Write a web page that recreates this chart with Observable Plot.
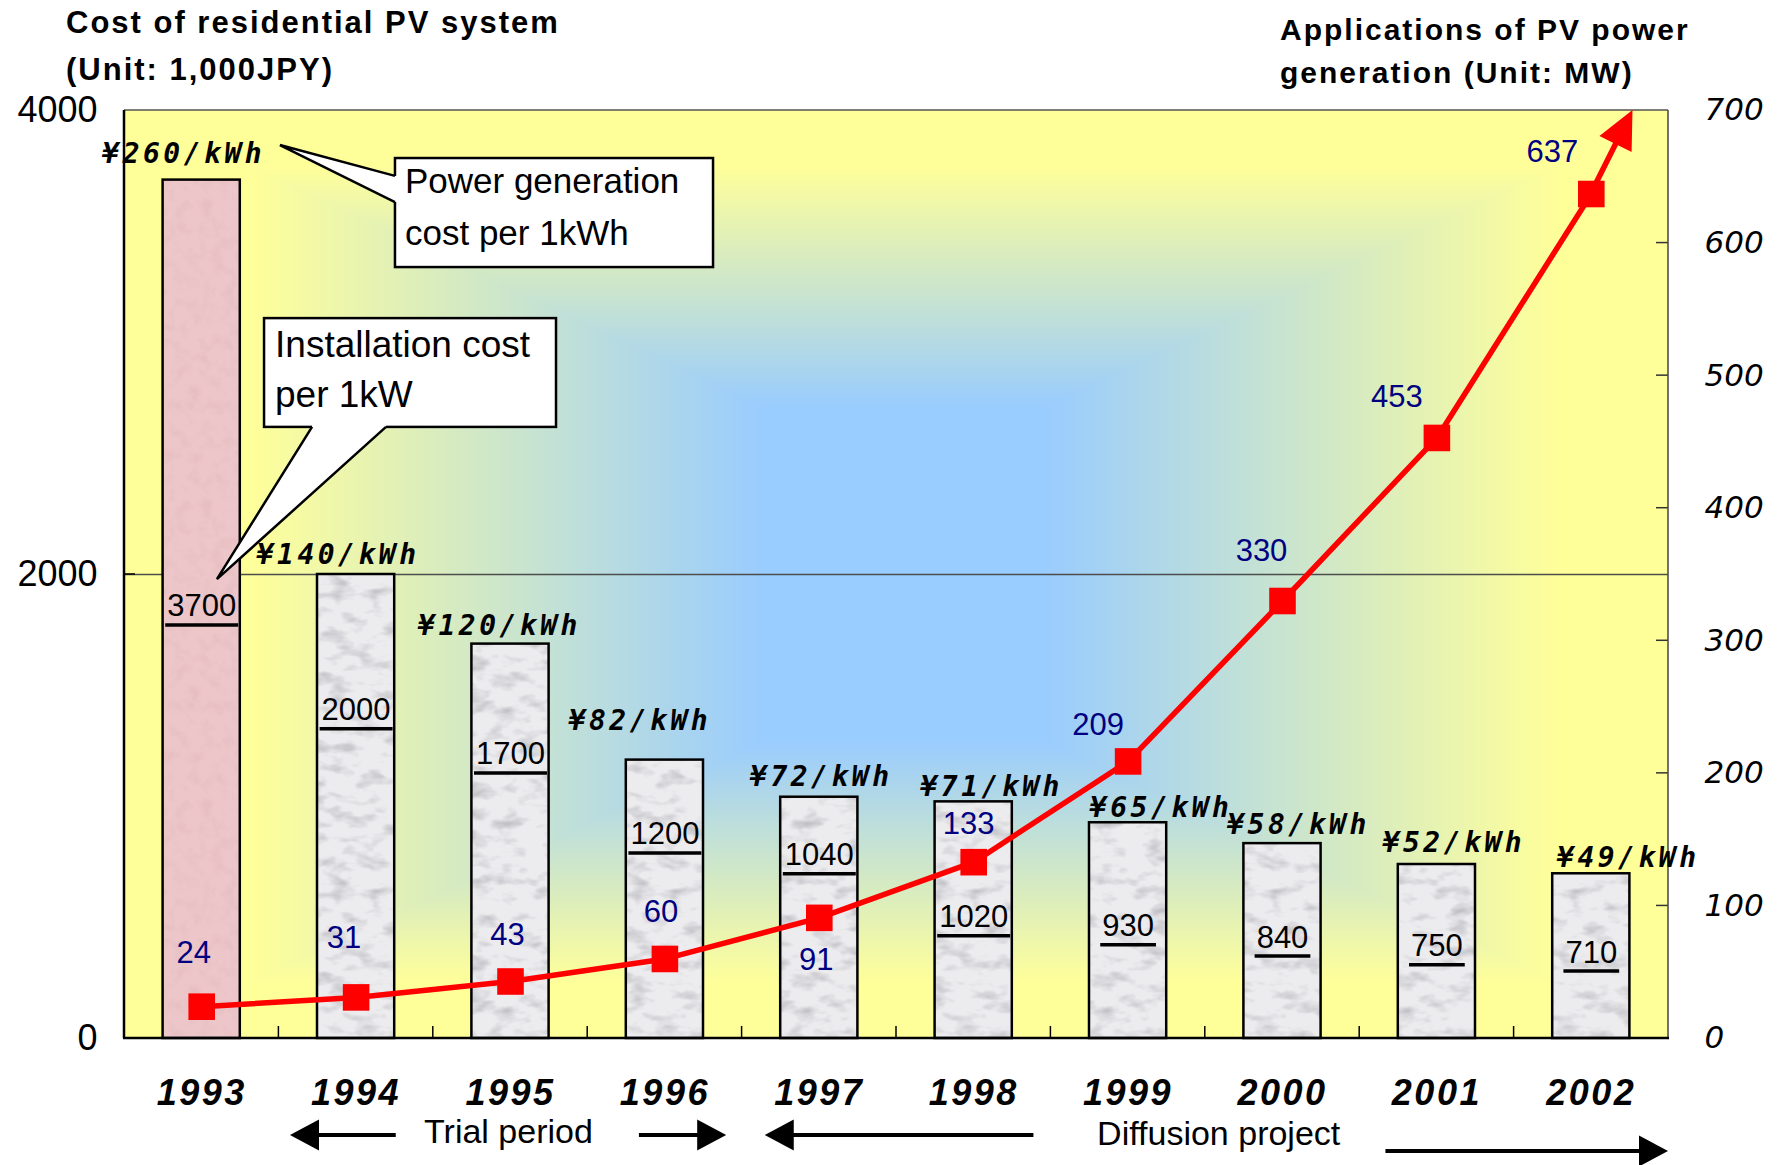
<!DOCTYPE html>
<html>
<head>
<meta charset="utf-8">
<script src="https://cdn.jsdelivr.net/npm/d3@7"></script>
<script src="https://cdn.jsdelivr.net/npm/@observablehq/plot@0.6"></script>
<style>
  html, body { margin: 0; padding: 0; background: #ffffff; }
  #chart svg { display: block; }
</style>
</head>
<body>
<div id="chart"></div>
<script>
// ---------------- data ----------------
const years = [1993, 1994, 1995, 1996, 1997, 1998, 1999, 2000, 2001, 2002];
const installCost = [3700, 2000, 1700, 1200, 1040, 1020, 930, 840, 750, 710];      // 1,000 JPY per kW
const mwApplied = [24, 31, 43, 60, 91, 133, 209, 330, 453, 637];                     // MW
const genCostLabels = ["¥260/kWh", "¥140/kWh", "¥120/kWh", "¥82/kWh", "¥72/kWh",
                       "¥71/kWh", "¥65/kWh", "¥58/kWh", "¥52/kWh", "¥49/kWh"];
const leftTicks = [0, 2000, 4000];
const rightTicks = [0, 100, 200, 300, 400, 500, 600, 700];
const arrowTip = {year: 2002.27, mw: 700};

// -------------- annotation layout --------------
const costLabelAt = [1862, 1414, 1224, 879, 789, 522, 483, 435, 397, 370];
const priceOffsets = [[-18,-26],[-18,-19],[-11,-18],[-25,-39],[2,-20],[18,-15],[33,-15],[16,-19],[17,-21],[37,-16]];
const mwOffsets = [[-8,-54],[-12,-59],[-3,-46],[-4,-47],[-3,42],[-5,-38],[-30,-36],[-21,-50],[-40,-41],[-39,-42]];
const callouts = [
  {lines: ["Power generation", "cost per 1kWh"], fontSize: 35, tx: 10, ty: [35, 87],
   box: {x1: 1994.255, x2: 1996.315, y1: 3793, y2: 3323},
   tip: [1993.51, 3849], base: [[1994.255, 3716], [1994.255, 3603]], inward: [3, 0]},
  {lines: ["Installation cost", "per 1kW"], fontSize: 37, tx: 11, ty: [39, 89],
   box: {x1: 1993.407, x2: 1995.298, y1: 3103, y2: 2634},
   tip: [1993.102, 1978], base: [[1993.718, 2634], [1994.197, 2634]], inward: [0, -3]}
];
const periods = [
  {label: "Trial period", at: 1994.99, textY: 105,
   arrows: [{tail: 1994.26, tip: 1993.575, y: 97}, {tail: 1995.835, tip: 1996.40, y: 97}]},
  {label: "Diffusion project", at: 1999.59, textY: 107,
   arrows: [{tail: 1998.39, tip: 1996.65, y: 97}, {tail: 2000.67, tip: 2002.5, y: 113}]}
];

const K = 4000 / 700; // MW -> left axis units
const barHalf = 0.25;
const data = years.map((year, i) => ({year, cost: installCost[i], mw: mwApplied[i], price: genCostLabels[i]}));

const W = 1784, H = 1165;
const SVGNS = "http://www.w3.org/2000/svg";
const FONT = "Liberation Sans, Arial, sans-serif";
const PRICE_INK = "#010101", COST_INK = "#020202", YEAR_INK = "#030303";

// -------------- background gradient (rectangular, from center) --------------
function background(index, scales, values, dims) {
  const L = dims.marginLeft, T = dims.marginTop;
  const w = Math.round(dims.width - dims.marginLeft - dims.marginRight);
  const h = Math.round(dims.height - dims.marginTop - dims.marginBottom);
  const c = document.createElement("canvas");
  c.width = w; c.height = h;
  const ctx = c.getContext("2d");
  const img = ctx.createImageData(w, h);
  const blue = [153, 204, 255], yel = [255, 255, 153];
  const cx = w * 0.505, cy = h * 0.5, innerY = 100;
  for (let j = 0; j < h; j++) {
    const v = Math.max(0, Math.abs(j + 0.5 - cy) - innerY) / (h / 2 - innerY);
    for (let i = 0; i < w; i++) {
      const u = Math.abs(i + 0.5 - cx) / (w / 2);
      let t = Math.max(u, v);
      t = Math.min(1, Math.max(0, (t - 0.18) / 0.67));
      const p = (j * w + i) * 4;
      img.data[p] = blue[0] + (yel[0] - blue[0]) * t;
      img.data[p + 1] = blue[1] + (yel[1] - blue[1]) * t;
      img.data[p + 2] = blue[2] + (yel[2] - blue[2]) * t;
      img.data[p + 3] = 255;
    }
  }
  ctx.putImageData(img, 0, 0);
  const el = document.createElementNS(SVGNS, "image");
  el.setAttribute("href", c.toDataURL("image/png"));
  el.setAttribute("x", L); el.setAttribute("y", T);
  el.setAttribute("width", w); el.setAttribute("height", h);
  el.setAttribute("preserveAspectRatio", "none");
  return el;
}

// -------------- frame edges & inner ticks --------------
function frameAndTicks(index, {x, y}, values, dims) {
  const L = dims.marginLeft, R = dims.width - dims.marginRight, T = dims.marginTop, B = dims.height - dims.marginBottom;
  const g = d3.create("svg:g");
  years.slice(0, -1).forEach(yr => {
    const px = x(yr + 0.5);
    g.append("line").attr("x1", px).attr("x2", px).attr("y1", B).attr("y2", B - 12)
      .attr("stroke", "#000").attr("stroke-width", 1.5);
  });
  rightTicks.slice(1, -1).forEach(v => {
    const py = y(v * K);
    g.append("line").attr("x1", R - 12).attr("x2", R).attr("y1", py).attr("y2", py)
      .attr("stroke", "#333").attr("stroke-width", 1.5);
  });
  g.append("line").attr("x1", L).attr("x2", L + 11).attr("y1", y(2000)).attr("y2", y(2000))
    .attr("stroke", "#000").attr("stroke-width", 1.5);
  g.append("line").attr("x1", L).attr("x2", R).attr("y1", T).attr("y2", T).attr("stroke", "#555").attr("stroke-width", 1.5);
  g.append("line").attr("x1", R).attr("x2", R).attr("y1", T).attr("y2", B).attr("stroke", "#444").attr("stroke-width", 1.5);
  g.append("line").attr("x1", L).attr("x2", L).attr("y1", T).attr("y2", B).attr("stroke", "#000").attr("stroke-width", 2.5);
  g.append("line").attr("x1", L - 1).attr("x2", R + 1).attr("y1", B).attr("y2", B).attr("stroke", "#000").attr("stroke-width", 2.5);
  return g.node();
}

// -------------- line extension with arrowhead --------------
function lineArrow(index, {x, y}) {
  const g = d3.create("svg:g");
  const last = data[data.length - 1];
  const p0 = [x(last.year), y(last.mw * K)];
  const tip = [x(arrowTip.year), y(arrowTip.mw * K)];
  const dx = tip[0] - p0[0], dy = tip[1] - p0[1];
  const len = Math.hypot(dx, dy);
  const ux = dx / len, uy = dy / len;
  const hl = 38, hw = 18;
  const bc = [tip[0] - ux * hl, tip[1] - uy * hl];
  g.append("line").attr("x1", p0[0]).attr("y1", p0[1]).attr("x2", bc[0] + ux * 2).attr("y2", bc[1] + uy * 2)
    .attr("stroke", "#ff0000").attr("stroke-width", 5.5);
  g.append("polygon")
    .attr("points", [tip, [bc[0] - uy * hw, bc[1] + ux * hw], [bc[0] + uy * hw, bc[1] - ux * hw]].map(p => p.join(",")).join(" "))
    .attr("fill", "#ff0000");
  return g.node();
}

// -------------- callouts --------------
function calloutMark(index, {x, y}) {
  const g = d3.create("svg:g");
  callouts.forEach(c => {
    const bx = x(c.box.x1), by = y(c.box.y1), bw = x(c.box.x2) - bx, bh = y(c.box.y2) - by;
    g.append("rect").attr("x", bx).attr("y", by).attr("width", bw).attr("height", bh)
      .attr("fill", "#fff").attr("stroke", "#000").attr("stroke-width", 2.5);
    const tip = [x(c.tip[0]), y(c.tip[1])];
    const b0 = [x(c.base[0][0]), y(c.base[0][1])], b1 = [x(c.base[1][0]), y(c.base[1][1])];
    const i0 = [b0[0] + c.inward[0], b0[1] + c.inward[1]], i1 = [b1[0] + c.inward[0], b1[1] + c.inward[1]];
    g.append("polygon").attr("points", [tip, b0, i0, i1, b1].map(p => p.join(",")).join(" "))
      .attr("fill", "#fff").attr("stroke", "none");
    g.append("polyline").attr("points", [b0, tip, b1].map(p => p.join(",")).join(" "))
      .attr("fill", "none").attr("stroke", "#000").attr("stroke-width", 2.5).attr("stroke-linejoin", "miter");
    c.lines.forEach((ln, i) => {
      g.append("text").attr("x", bx + c.tx).attr("y", by + c.ty[i]).attr("text-anchor", "start")
        .attr("font-family", FONT).attr("font-size", c.fontSize)
        .attr("fill", "#000").text(ln);
    });
  });
  return g.node();
}

// -------------- period arrows, titles --------------
function periodMark(index, {x}, values, dims) {
  const B = dims.height - dims.marginBottom;
  const g = d3.create("svg:g");
  periods.forEach(p => {
    g.append("text").attr("x", x(p.at)).attr("y", B + p.textY).attr("text-anchor", "middle")
      .attr("font-family", FONT).attr("font-size", 34).attr("fill", "#000").text(p.label);
    p.arrows.forEach(a => {
      const t = x(a.tail), tp = x(a.tip), yy = B + a.y;
      const dir = Math.sign(tp - t), hl = 29, hw = 15.5;
      const hb = tp - dir * hl;
      g.append("line").attr("x1", t).attr("x2", hb + dir * 2).attr("y1", yy).attr("y2", yy)
        .attr("stroke", "#000").attr("stroke-width", 4);
      g.append("polygon").attr("points", `${tp},${yy} ${hb},${yy - hw} ${hb},${yy + hw}`).attr("fill", "#000");
    });
  });
  const tl = g.append("text").attr("font-family", FONT).attr("font-weight", "bold").attr("text-anchor", "start")
    .attr("font-size", 31).attr("letter-spacing", "2px").attr("fill", "#000");
  tl.append("tspan").attr("x", 66).attr("y", 33).text("Cost of residential PV system");
  tl.append("tspan").attr("x", 66).attr("y", 80).text("(Unit: 1,000JPY)");
  const tr = g.append("text").attr("font-family", FONT).attr("font-weight", "bold").attr("text-anchor", "start")
    .attr("font-size", 30).attr("letter-spacing", "2px").attr("fill", "#000");
  tr.append("tspan").attr("x", 1280).attr("y", 40).text("Applications of PV power");
  tr.append("tspan").attr("x", 1280).attr("y", 83).text("generation (Unit: MW)");
  return g.node();
}

const priceMarks = data.map((d, i) => Plot.text([d], {
  x: "year", y: "cost", text: "price", dx: priceOffsets[i][0], dy: priceOffsets[i][1],
  fontFamily: "DejaVu Sans Mono", fontWeight: "bold", fontStyle: "italic", fontSize: 28,
  lineAnchor: "middle", fill: PRICE_INK
}));
const mwMarks = data.map((d, i) => Plot.text([d], {
  x: "year", y: e => e.mw * K, text: e => String(e.mw), dx: mwOffsets[i][0], dy: mwOffsets[i][1],
  fontFamily: FONT, fontSize: 31, lineAnchor: "middle", fill: "#000080"
}));

const svg = Plot.plot({
  width: W, height: H,
  marginLeft: 124, marginRight: 116, marginTop: 110, marginBottom: 127,
  style: {fontFamily: FONT, background: "transparent", overflow: "visible", color: "#000"},
  x: {domain: [1992.5, 2002.5]},
  y: {domain: [0, 4000]},
  marks: [
    background,
    Plot.ruleY([2000], {stroke: "#4d4d4d", strokeWidth: 1.5}),
    Plot.rect(data.filter(d => d.year === 1993), {x1: d => d.year - barHalf, x2: d => d.year + barHalf, y1: 0, y2: "cost",
      fill: "url(#pinkTex)", stroke: "#000", strokeWidth: 2.5}),
    Plot.rect(data.filter(d => d.year !== 1993), {x1: d => d.year - barHalf, x2: d => d.year + barHalf, y1: 0, y2: "cost",
      fill: "url(#grayTex)", stroke: "#000", strokeWidth: 2.5}),
    frameAndTicks,
    Plot.text(data, {x: "year", y: (d, i) => costLabelAt[i], text: d => String(d.cost), fontSize: 31,
      lineAnchor: "middle", fill: COST_INK}),
    ...priceMarks,
    Plot.line(data, {x: "year", y: d => d.mw * K, stroke: "#ff0000", strokeWidth: 5.5}),
    lineArrow,
    Plot.dot(data, {x: "year", y: d => d.mw * K, symbol: "square", r: 15, fill: "#ff0000"}),
    ...mwMarks,
    calloutMark,
    Plot.axisY({ticks: leftTicks, anchor: "left", tickSize: 0, tickPadding: 27, tickFormat: d => String(d),
      fontSize: 36, label: null}),
    Plot.axisY({ticks: rightTicks.map(v => v * K), anchor: "right", tickSize: 0, tickPadding: 36,
      tickFormat: d => String(Math.round(d / K)), fontSize: 31, fontStyle: "italic", fontFamily: "DejaVu Sans", label: null}),
    Plot.axisX({ticks: years, anchor: "bottom", tickSize: 0, tickPadding: 41, tickFormat: d => String(d),
      fontSize: 36, fontWeight: "bold", fontStyle: "italic", fill: YEAR_INK, label: null}),
    periodMark
  ]
});

const defs = d3.select(svg).insert("defs", ":first-child");
defs.html(`
  <filter id="fNoiseGray" x="0" y="0" width="100%" height="100%">
    <feTurbulence type="fractalNoise" baseFrequency="0.035 0.07" numOctaves="3" seed="7" stitchTiles="stitch"/>
    <feColorMatrix type="matrix" values="0 0 0 0 0.42  0 0 0 0 0.42  0 0 0 0 0.45  -1.9 0 0 0 0.98"/>
  </filter>
  <filter id="fNoisePink" x="0" y="0" width="100%" height="100%">
    <feTurbulence type="fractalNoise" baseFrequency="0.08 0.08" numOctaves="3" seed="3" stitchTiles="stitch"/>
    <feColorMatrix type="matrix" values="0 0 0 0 0.78  0 0 0 0 0.50  0 0 0 0 0.53  -1.6 0 0 0 0.9"/>
  </filter>
  <pattern id="grayTex" patternUnits="userSpaceOnUse" width="300" height="300">
    <rect width="300" height="300" fill="#ececef"/>
    <rect width="300" height="300" fill="#fff" filter="url(#fNoiseGray)"/>
  </pattern>
  <pattern id="pinkTex" patternUnits="userSpaceOnUse" width="300" height="300">
    <rect width="300" height="300" fill="#ecc6c8"/>
    <rect width="300" height="300" fill="#fff" filter="url(#fNoisePink)"/>
  </pattern>
`);

document.getElementById("chart").appendChild(svg);

function textsWithInk(ink) {
  return Array.from(svg.querySelectorAll("g")).filter(g => (g.getAttribute("fill") || "").toLowerCase() === ink)
    .flatMap(g => Array.from(g.querySelectorAll("text")));
}
textsWithInk(PRICE_INK).forEach(t => t.style.letterSpacing = "3.5px");
textsWithInk(YEAR_INK).forEach(t => t.style.letterSpacing = "2.5px");

// underline the installation-cost labels
textsWithInk(COST_INK).forEach(t => {
  const b = t.getBBox();
  const tr = t.getAttribute("transform");
  const ln = document.createElementNS(SVGNS, "line");
  ln.setAttribute("x1", b.x - 2); ln.setAttribute("x2", b.x + b.width + 2);
  ln.setAttribute("y1", b.y + b.height + 1.5); ln.setAttribute("y2", b.y + b.height + 1.5);
  ln.setAttribute("stroke", "#000"); ln.setAttribute("stroke-width", 3.5);
  if (tr) ln.setAttribute("transform", tr);
  t.parentNode.appendChild(ln);
});
</script>
</body>
</html>
